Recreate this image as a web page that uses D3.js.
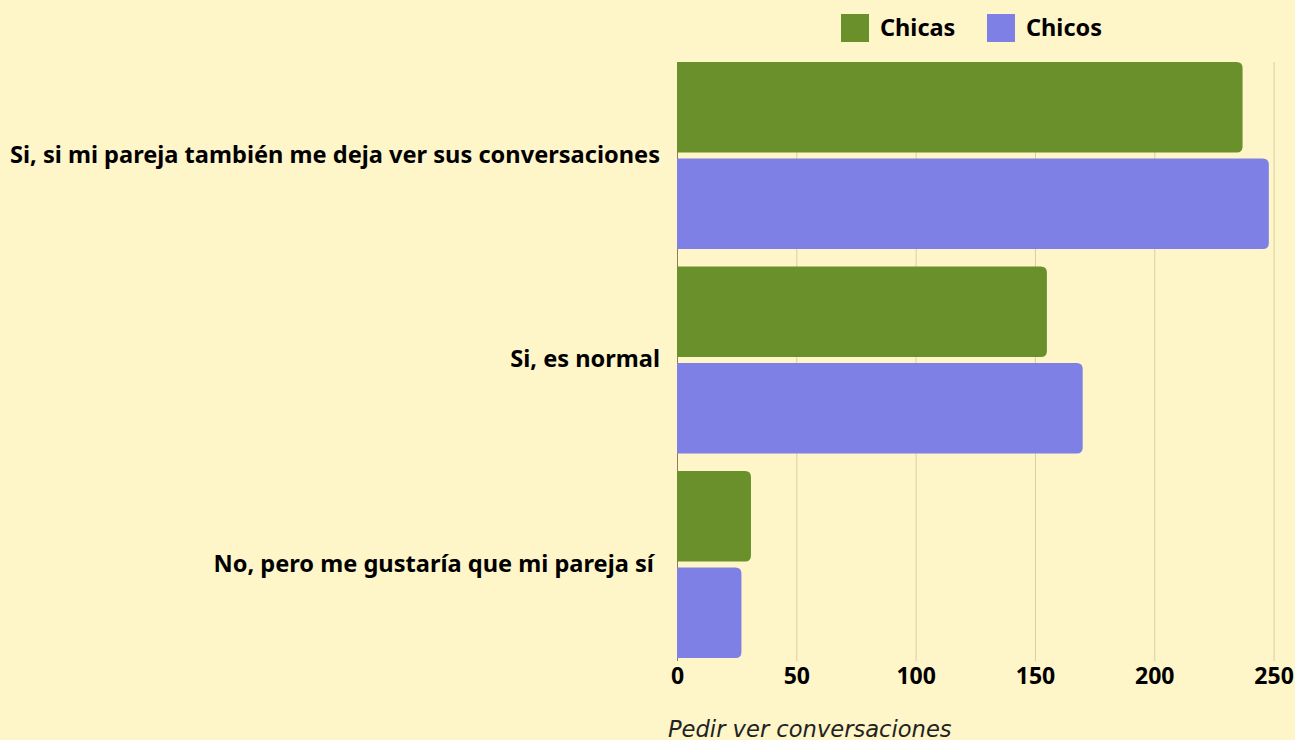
<!DOCTYPE html>
<html lang="es">
<head>
<meta charset="utf-8">
<title>Pedir ver conversaciones</title>
<script src="https://d3js.org/d3.v7.min.js"></script>
<style>
  html, body { margin: 0; padding: 0; background: #fef5c8; }
  svg { display: block; }
  .cat text { font-family: "Noto Sans", sans-serif; font-weight: bold; font-size: 23.6px; fill: #000; }
  .axis text { font-family: "Noto Sans", sans-serif; font-weight: bold; font-size: 23px; fill: #000; }
  .legend text { font-family: "Noto Sans", sans-serif; font-weight: bold; font-size: 23.5px; fill: #000; }
  .title { font-family: "DejaVu Sans", sans-serif; font-style: italic; font-size: 22.6px; fill: #222; }
</style>
</head>
<body>
<svg width="1295" height="740"></svg>
<script>
// datos
var categories = ["Si, si mi pareja también me deja ver sus conversaciones", "Si, es normal", "No, pero me gustaría que mi pareja sí "];
var seriesNames = ["Chicas", "Chicos"];
var chicas = [237, 155, 31];
var chicos = [248, 170, 27];
var ticks = [0, 50, 100, 150, 200, 250];
var colors = ["#6a902c", "#7f80e6"];

var svg = d3.select("svg"),
    margin = {top: 62, right: 21, bottom: 82, left: 677},
    width = +svg.attr("width") - margin.left - margin.right,
    height = +svg.attr("height") - margin.top - margin.bottom,
    g = svg.append("g").attr("transform", "translate(" + margin.left + "," + margin.top + ")");

var x = d3.scaleLinear().domain([0, 250]).range([0, width - 0.4]);
var y0 = d3.scaleBand().domain(categories).range([0, height]).paddingInner(0.086).paddingOuter(0);
var y1 = d3.scaleBand().domain(seriesNames).range([0, y0.bandwidth()]).paddingInner(0.062);
var color = d3.scaleOrdinal().domain(seriesNames).range(colors);

var rows = categories.map(function(c, i) {
  return {cat: c, values: [{key: "Chicas", v: chicas[i]}, {key: "Chicos", v: chicos[i]}]};
});

// grid
g.append("g").selectAll("line")
  .data(ticks.slice(1))
  .enter().append("line")
    .attr("x1", function(d) { return x(d) + 0.5; })
    .attr("x2", function(d) { return x(d) + 0.5; })
    .attr("y1", 0).attr("y2", height + 3)
    .attr("stroke", "#d8cfa5").attr("stroke-width", 1);

g.append("line")
  .attr("x1", 0.5).attr("x2", 0.5).attr("y1", 0).attr("y2", height + 3)
  .attr("stroke", "#8c7f55").attr("stroke-width", 1);

function barPath(w, h, r) {
  r = Math.min(r, w / 2, h / 2);
  return "M0,0H" + (w - r) + "Q" + w + ",0 " + w + "," + r +
         "V" + (h - r) + "Q" + w + "," + h + " " + (w - r) + "," + h + "H0Z";
}

var grp = g.selectAll(".grp")
  .data(rows)
  .enter().append("g")
    .attr("class", "grp")
    .attr("transform", function(d) { return "translate(0," + y0(d.cat) + ")"; });

grp.selectAll("path")
  .data(function(d) { return d.values; })
  .enter().append("path")
    .attr("transform", function(d) { return "translate(0," + y1(d.key) + ")"; })
    .attr("d", function(d) { return barPath(x(d.v), y1.bandwidth(), 6); })
    .attr("fill", function(d) { return color(d.key); });

// etiquetas de categoria
var cat = svg.append("g").attr("class", "cat");
cat.selectAll("text")
  .data(categories)
  .enter().append("text")
    .attr("x", margin.left - 17)
    .attr("y", function(d) { return margin.top + y0(d) + y0.bandwidth() / 2; })
    .attr("dy", "0.3em")
    .attr("text-anchor", "end")
    .style("white-space", "pre")
    .text(function(d) { return d; });

// eje x
var axis = g.append("g")
  .attr("class", "axis")
  .attr("transform", "translate(0," + height + ")")
  .call(d3.axisBottom(x).tickValues(ticks).tickSize(0).tickPadding(10));
axis.select(".domain").remove();
axis.selectAll("text").attr("dy", "0.71em");

svg.append("text")
  .attr("class", "title")
  .attr("x", 668)
  .attr("y", 737)
  .text("Pedir ver conversaciones");

// leyenda
var legendX = [841, 987];
var legend = svg.append("g").attr("class", "legend")
  .selectAll("g")
  .data(seriesNames)
  .enter().append("g")
    .attr("transform", function(d, i) { return "translate(" + legendX[i] + ",14)"; });
legend.append("rect")
  .attr("width", 28).attr("height", 28)
  .attr("fill", function(d) { return color(d); });
legend.append("text")
  .attr("x", 39).attr("y", 14).attr("dy", "0.35em")
  .text(function(d) { return d; });
</script>
</body>
</html>
